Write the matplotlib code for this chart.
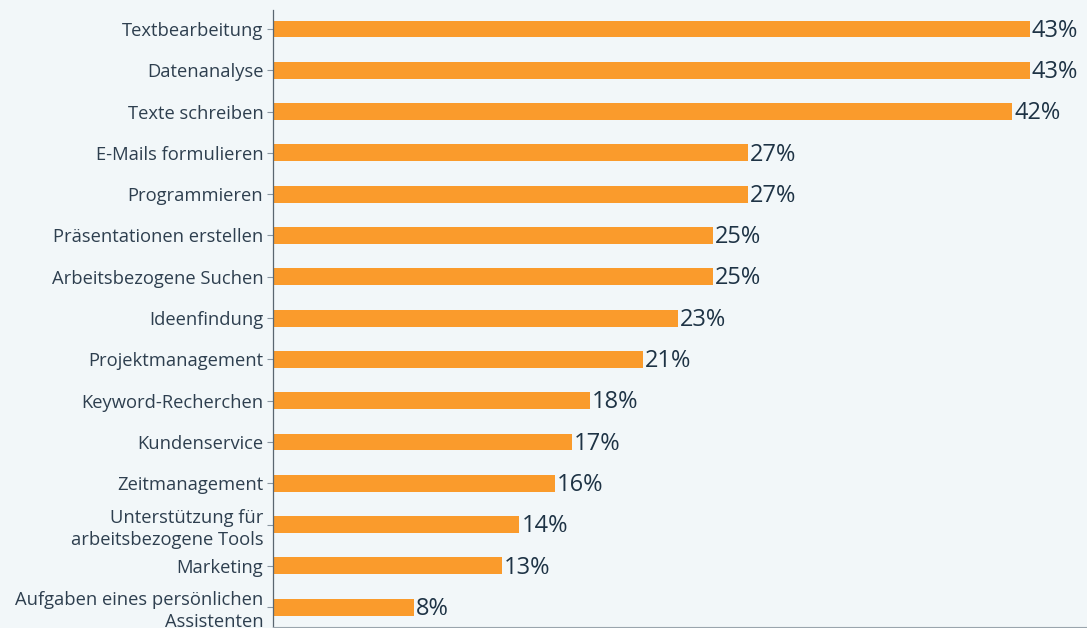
import matplotlib
matplotlib.use("Agg")
import matplotlib.pyplot as plt

categories = [
    "Textbearbeitung", "Datenanalyse", "Texte schreiben", "E-Mails formulieren",
    "Programmieren", "Präsentationen erstellen", "Arbeitsbezogene Suchen",
    "Ideenfindung", "Projektmanagement", "Keyword-Recherchen", "Kundenservice",
    "Zeitmanagement", "Unterstützung für\narbeitsbezogene Tools", "Marketing",
    "Aufgaben eines persönlichen\nAssistenten",
]
values = [43, 43, 42, 27, 27, 25, 25, 23, 21, 18, 17, 16, 14, 13, 8]
value_labels = [f"{v}%" for v in values]

bg = "#f2f7f9"
bar_color = "#fa9b2c"
label_color = "#2e3f4f"
value_color = "#1e3345"

plt.rcParams['font.family'] = ['Open Sans', 'DejaVu Sans']

fig = plt.figure(figsize=(10.87, 6.28), dpi=100, facecolor=bg)
ax = fig.add_axes([273/1087, 1 - 627/628, (1087-273)/1087, 617/628])
ax.set_facecolor(bg)

y = list(range(len(categories)))
ax.barh(y, values, height=0.41, color=bar_color)
for yi, v, t in zip(y, values, value_labels):
    ax.text(v + 0.12, yi + 0.04, t, va="center", ha="left", fontsize=17, color=value_color)

ax.set_xlim(0, 46.25)
ax.set_ylim(len(categories) - 1 + 0.48, -0.46)
ax.set_yticks(y)
ax.set_yticklabels(categories, fontsize=13.2, color=label_color, linespacing=1.3)
ax.tick_params(axis="y", length=4, width=0.8, color="#8a96a0", pad=3)
ax.set_xticks([])
for s in ["top", "right"]:
    ax.spines[s].set_visible(False)
ax.spines["left"].set_color("#5a6670")
ax.spines["left"].set_linewidth(0.9)
ax.spines["bottom"].set_color("#9aa5ad")
ax.spines["bottom"].set_linewidth(0.8)

fig.savefig("out.png", dpi=100, facecolor=bg)
